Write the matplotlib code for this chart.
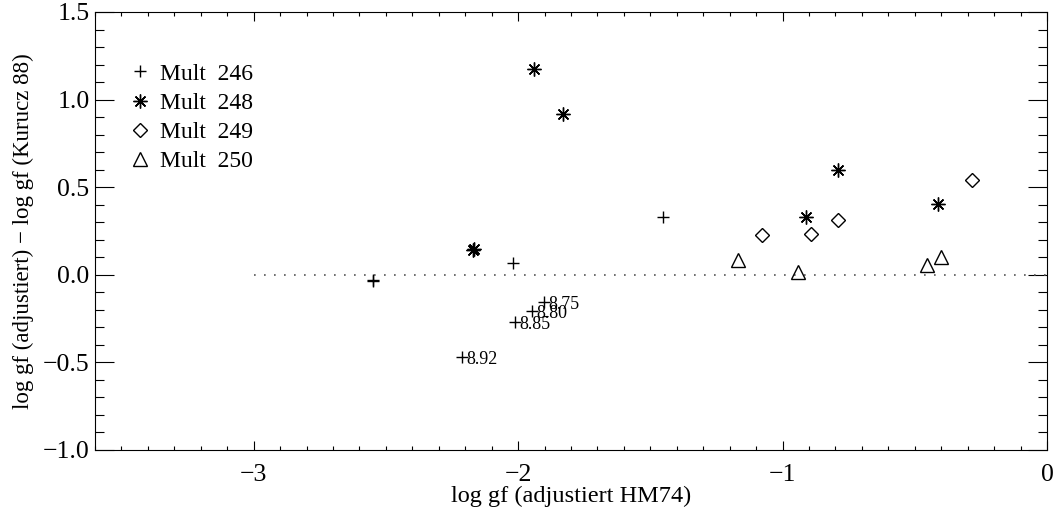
import matplotlib
matplotlib.use("Agg")
import matplotlib.pyplot as plt

plt.rcParams['font.family'] = ['Liberation Serif', 'DejaVu Serif']
plt.rcParams['font.size'] = 17

# Mult 246 (plus)
x246 = [-2.55, -2.547, -2.02, -1.453, -1.902, -1.947, -2.011, -2.211]
y246 = [-0.035, -0.03, 0.067, 0.33, -0.155, -0.207, -0.27, -0.47]
lab246 = ["", "", "", "", "8.75", "8.80", "8.85", "8.92"]

# Mult 248 (asterisk)
x248 = [-2.17, -2.167, -1.94, -1.83, -0.913, -0.792, -0.411]
y248 = [0.142, 0.147, 1.175, 0.917, 0.33, 0.598, 0.404]

# Mult 249 (diamond)
x249 = [-1.079, -0.891, -0.792, -0.283]
y249 = [0.227, 0.233, 0.313, 0.541]

# Mult 250 (triangle)
x250 = [-1.17, -0.94, -0.453, -0.40]
y250 = [0.084, 0.016, 0.056, 0.10]

fig = plt.figure(figsize=(10.57, 5.12), dpi=100)
ax = fig.add_axes([0.0899, 0.1211, 0.9006, 0.8555])

ax.plot([-3, 0], [0, 0], color="#555555", linestyle=(0, (1, 5)), linewidth=1.2)

ax.plot(x246, y246, linestyle="none", marker="+", markersize=9, markeredgewidth=1.0,
        color="black", label="Mult  246")
ax.plot(x248, y248, linestyle="none", marker=(8, 2, 0), markersize=10, markeredgewidth=1.0,
        color="black", label="Mult  248")
ax.plot(x249, y249, linestyle="none", marker="D", markersize=7, markeredgewidth=1.0,
        markerfacecolor="none", color="black", label="Mult  249")
ax.plot(x250, y250, linestyle="none", marker="^", markersize=10, markeredgewidth=1.0,
        markerfacecolor="none", color="black", label="Mult  250")

for xi, yi, t in zip(x246, y246, lab246):
    if t:
        ax.annotate(t, (xi, yi), xytext=(3, -2), textcoords="offset points",
                    ha="left", va="center", fontsize=13)

ax.set_xlim(-3.6, 0)
ax.set_ylim(-1.0, 1.5)
ax.set_xticks([-3, -2, -1, 0])
ax.set_xticklabels(["\u22123", "\u22122", "\u22121", "0"], fontsize=18.5)
ax.set_xticks([v / 10 for v in range(-36, 1)], minor=True)
ax.set_yticks([-1.0, -0.5, 0.0, 0.5, 1.0, 1.5])
ax.set_yticklabels(["\u22121.0", "\u22120.5", "0.0", "0.5", "1.0", "1.5"], fontsize=18.5)
ax.set_yticks([v / 10 for v in range(-10, 16)], minor=True)

ax.tick_params(axis="both", which="both", direction="in", top=True, right=True, width=0.8)
ax.tick_params(axis="x", which="major", length=6.5, pad=10)
ax.tick_params(axis="x", which="minor", length=3.2)
ax.tick_params(axis="y", which="major", length=13.5, pad=4)
ax.tick_params(axis="y", which="minor", length=6.8)
for s in ax.spines.values():
    s.set_linewidth(0.8)

ax.set_xlabel("log gf (adjustiert HM74)", fontsize=17.5, labelpad=0)
ax.set_ylabel("log gf (adjustiert) \u2212 log gf (Kurucz 88)", fontsize=16.5, labelpad=6)

ax.legend(loc="upper left", bbox_to_anchor=(0.035, 0.883), frameon=False,
          handlelength=1.0, handletextpad=0.35, labelspacing=0.32, borderaxespad=0,
          borderpad=0, fontsize=17)

fig.savefig("out.png", dpi=100)
